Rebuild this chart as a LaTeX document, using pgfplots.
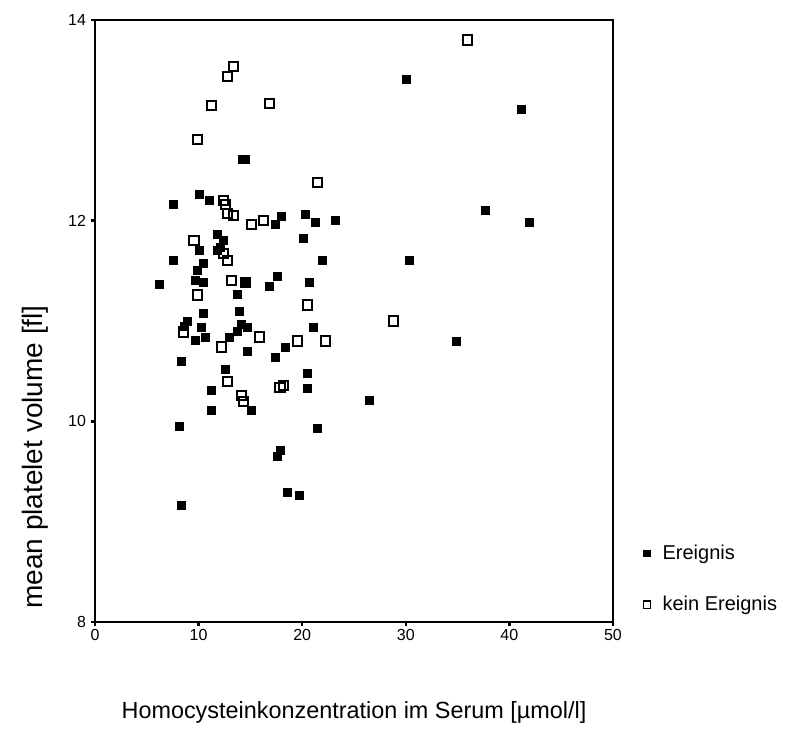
\documentclass[border=0pt]{standalone}
\usepackage{pgfplots}
\pgfplotsset{compat=1.18}
\usepackage{fontspec}
\setmainfont{Liberation Sans}
\begin{document}
\begin{tikzpicture}
\begin{axis}[
  at={(47.5pt,53.5pt)}, anchor=south west,
  width=259pt, height=301pt, scale only axis,
  xmin=0, xmax=50, ymin=8, ymax=14,
  xtick={0,10,20,30,40,50}, ytick={8,10,12,14},
  axis line style={line width=1pt},
  tick style={black, line width=1.2pt},
  major tick length=2pt,
  tick align=outside,
  xtick pos=bottom, ytick pos=left,
  /pgf/number format/assume math mode=true,
  tick label style={font=\fontsize{8}{9}\selectfont},
  xticklabel style={yshift=2pt},
  yticklabel style={xshift=1pt},
  xlabel={Homocysteinkonzentration im Serum [µmol/l]},
  ylabel={mean platelet volume [fl]},
  xlabel style={font=\fontsize{11.7}{14}\selectfont, at={(rel axis cs:0.5,0)}, anchor=center, yshift=-45pt},
  ylabel style={font=\fontsize{14}{16}\selectfont, at={(rel axis cs:0,0.5)}, anchor=center, yshift=30pt, xshift=-68pt},
  legend style={draw=none, fill=none, at={(rel axis cs:1,0)}, anchor=south west,
    xshift=12pt, yshift=0pt, font=\fontsize{10}{12}\selectfont,
    row sep=13pt, cells={anchor=west},
    /tikz/every odd column/.style={column sep=4pt}},
  legend cell align=left,
  clip=false,
]
\addplot[only marks, mark=square*, mark size=2pt, draw=black, fill=black,
  legend image post style={mark size=1.7pt}] coordinates {
(6.2,11.36) (7.6,12.16) (7.6,11.60) (8.3,10.60) (8.15,9.95) (8.3,9.16)
(8.6,10.95) (8.9,11.00) (9.7,10.81) (9.7,11.40) (9.9,11.50) (10.1,12.26)
(10.1,11.70) (10.3,10.94) (10.5,11.57) (10.5,11.38) (10.5,11.08) (10.65,10.84)
(11.0,12.20) (11.26,10.31) (11.26,10.11) (11.8,11.86) (11.8,11.70) (12.07,11.73)
(12.39,11.80) (12.62,10.52) (12.97,10.84) (13.7,10.90) (13.74,11.27) (13.9,11.10)
(14.16,10.97) (14.2,12.61) (14.5,12.61) (14.58,11.38) (14.7,10.94) (14.7,10.70)
(15.12,10.11) (16.83,11.34) (17.37,10.64) (17.37,11.96) (17.57,11.44) (17.6,9.65)
(17.92,9.71) (17.98,12.04) (18.37,10.74) (18.56,9.29) (19.69,9.26) (20.1,11.82)
(20.27,12.06) (20.5,10.48) (20.5,10.33) (20.69,11.38) (21.07,10.94) (21.24,11.98)
(21.46,9.93) (21.98,11.60) (23.17,12.00) (26.48,10.21) (30.08,13.41) (30.34,11.60)
(34.91,10.80) (37.64,12.10) (41.12,13.11) (41.92,11.98)
};
\addlegendentry{Ereignis}
\addplot[only marks, mark=square, mark size=2.3pt, mark options={line width=1pt}, draw=black,
  legend image post style={mark size=1.8pt, mark options={line width=0.8pt}}] coordinates {
(8.55,10.89) (9.56,11.80) (9.88,11.26) (9.88,12.81) (11.26,13.15) (12.23,10.74)
(12.39,12.20) (12.61,12.16) (12.77,12.07) (13.35,12.05) (12.39,11.67) (12.8,11.60)
(12.8,10.40) (12.8,13.44) (13.35,13.54) (13.19,11.40) (14.55,11.38) (14.16,10.26)
(14.32,10.20) (15.12,11.96) (16.25,12.00) (15.86,10.84) (16.83,13.17) (17.86,10.34)
(18.18,10.36) (19.53,10.80) (20.53,11.16) (21.46,12.38) (22.27,10.80) (28.8,11.00)
(35.94,13.80)
};
\addlegendentry{kein Ereignis}
\end{axis}
\pgfresetboundingbox
\useasboundingbox (0,0) rectangle (393.5pt,364.5pt);
\end{tikzpicture}
\end{document}
